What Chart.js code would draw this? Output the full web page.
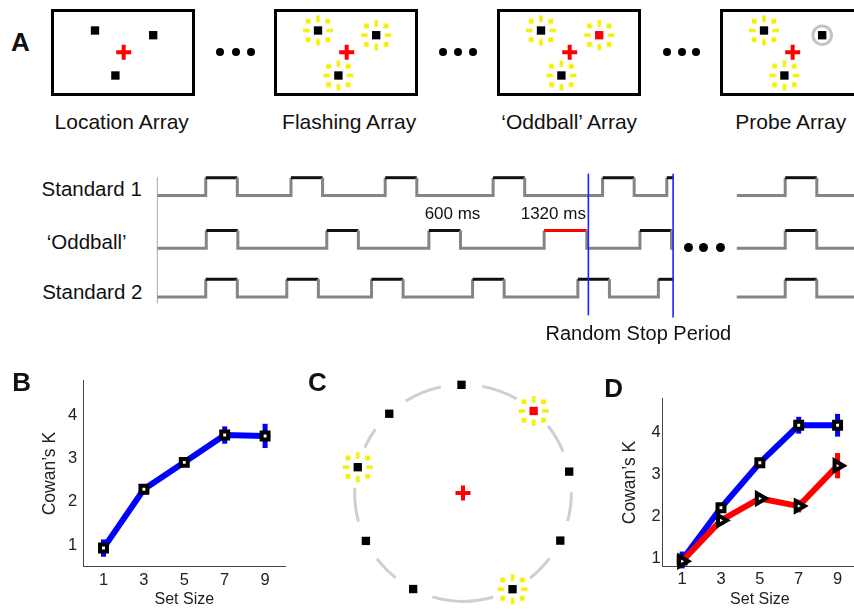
<!DOCTYPE html>
<html>
<head>
<meta charset="utf-8">
<script src="https://cdn.jsdelivr.net/npm/chart.js"></script>
<style>
  html, body { margin: 0; padding: 0; width: 854px; height: 609px; overflow: hidden; background: #fff; }
  body { position: relative; font-family: "Liberation Sans", Arial, sans-serif; color: #111; }
  canvas { position: absolute; }
  .txt { position: absolute; white-space: nowrap; line-height: 1; transform: translate(-50%, -50%); }
  .dot { position: absolute; border-radius: 50%; background: #000; }
</style>
</head>
<body>
<script>
// ---- panel A, stimulus arrays (display units, fixation at 0,0)
const arrayNames = ["Location Array", "Flashing Array", "\u2018Oddball\u2019 Array", "Probe Array"];
const itemX = [-2.8, 3.02, -0.76];
const itemY = [2.2, 1.73, -2.3];
const flashOn = [[0, 0, 0], [1, 1, 1], [1, 1, 1], [1, 0, 1]];
const oddItem = [-1, -1, 1, -1];
const probeItem = [-1, -1, -1, 1];
const fixation = { x: 0.07, y: 0.03 };

// ---- panel A, timing (ms)
const pulseMs = 600;
const std1Onsets = [920, 2540, 4330, 6380, 8460, 9680];
const oddOnsets = [930, 3220, 5160, 7350, 9170];
const oddDurations = [600, 600, 600, 810, 600];
const std2Onsets = [920, 2460, 4070, 5990, 7990, 9520];
const stopTimes = [8190, 9800];
const resumeMs = 11010;
const probeOnset = 11930;

// ---- panel B
const setSizes = [1, 3, 5, 7, 9];
const kTicks = [1, 2, 3, 4];
const kAll = [0.93, 2.29, 2.91, 3.54, 3.52];
const kAllErr = [0.2, 0.12, 0.07, 0.2, 0.28];

// ---- panel C (angle in degrees on the placeholder circle)
const circleAngles = [90.8, 132.9, 49.3, 166.2, 11.4, 206.3, 333.9, 242.6, 297.2];
const circleFlash = [0, 0, 1, 1, 0, 0, 0, 0, 1];
const circleOdd = [0, 0, 1, 0, 0, 0, 0, 0, 0];

// ---- panel D
const kStandard = [0.96, 2.2, 3.27, 4.16, 4.16];
const kStandardErr = [0.2, 0.1, 0.07, 0.2, 0.27];
const kOddball = [0.93, 1.9, 2.42, 2.24, 3.2];
const kOddballErr = [0.12, 0.1, 0.1, 0.15, 0.3];

Chart.defaults.font.family = '"Liberation Sans", Arial, sans-serif';
Chart.defaults.color = "#222";

const addCanvas = (left, top, w, h) => {
  const c = document.createElement("canvas");
  c.width = w; c.height = h;
  c.style.left = left + "px"; c.style.top = top + "px";
  document.body.appendChild(c);
  return c;
};
const addText = (text, cx, cy, size, bold) => {
  const d = document.createElement("div");
  d.className = "txt";
  d.textContent = text;
  d.style.left = cx + "px"; d.style.top = cy + "px";
  d.style.fontSize = size + "px";
  if (bold) d.style.fontWeight = "bold";
  document.body.appendChild(d);
};
const addDots = (xs, cy, size) => {
  xs.forEach((cx) => {
    const d = document.createElement("div");
    d.className = "dot";
    d.style.width = d.style.height = size + "px";
    d.style.left = cx - size / 2 + "px"; d.style.top = cy - size / 2 + "px";
    document.body.appendChild(d);
  });
};

// yellow "flash" halo used as a point style
const makeFlash = () => {
  const c = document.createElement("canvas");
  c.width = c.height = 32;
  const g = c.getContext("2d");
  g.fillStyle = "#f5ee00";
  const m = 16;
  [[-1, -1], [1, -1], [-1, 1], [1, 1]].forEach(([sx, sy]) =>
    g.fillRect(m + sx * 9.8 - 2.4, m + sy * 9.2 - 2.4, 4.8, 4.8));
  g.fillRect(m - 1.7, m - 15, 3.4, 6.5);
  g.fillRect(m - 1.7, m + 8.5, 3.4, 6.5);
  g.fillRect(m - 15, m - 1.7, 6.5, 3.4);
  g.fillRect(m + 8.5, m - 1.7, 6.5, 3.4);
  return c;
};
const flashImg = makeFlash();

const baseOpts = (xMin, xMax, yMin, yMax) => ({
  animation: false,
  responsive: false,
  events: [],
  layout: { padding: 0, autoPadding: false },
  plugins: { legend: { display: false }, tooltip: { enabled: false } },
  scales: {
    x: { type: "linear", display: false, min: xMin, max: xMax },
    y: { type: "linear", display: false, min: yMin, max: yMax },
  },
});

const boxFrame = {
  id: "boxFrame",
  beforeDraw(chart) {
    const { ctx, chartArea: a } = chart;
    ctx.save();
    ctx.lineWidth = 3;
    ctx.strokeStyle = "#000";
    ctx.strokeRect(a.left + 1.5, a.top + 1.5, a.right - a.left - 3, a.bottom - a.top - 3);
    ctx.restore();
  },
};

// ---------- A: the four arrays
const boxLefts = [51, 274, 497, 720];
const labelCx = [121.7, 349.2, 569.2, 790.8];
arrayNames.forEach((name, b) => {
  const cv = addCanvas(boxLefts[b], 9, 144, 87);
  const pts = itemX.map((x, i) => ({ x, y: itemY[i] }));
  new Chart(cv, {
    type: "scatter",
    data: {
      datasets: [
        { data: [fixation], pointStyle: "cross", pointRadius: 7.5, pointBorderWidth: 4, pointBorderColor: "#ff0000" },
        {
          data: pts, pointStyle: "rect", pointRadius: 5.9, pointBorderWidth: 0,
          pointBackgroundColor: pts.map((_, i) => (oddItem[b] === i ? "#ff0000" : "#000")),
        },
        {
          data: pts.filter((_, i) => probeItem[b] === i), pointStyle: "circle", pointRadius: 9.3,
          pointBorderWidth: 3, pointBorderColor: "#c4c4c4", pointBackgroundColor: "rgba(0,0,0,0)",
        },
        { data: pts.filter((_, i) => flashOn[b][i]), pointStyle: flashImg, pointRadius: 16 },
      ],
    },
    options: baseOpts(-7.2, 7.2, -4.35, 4.35),
    plugins: [boxFrame],
  });
  addText(name, labelCx[b], 121, 21);
});
addDots([220, 235.7, 250.7], 52.3, 8);
addDots([442.7, 457.7, 472.7], 52.3, 8);
addDots([666.7, 681.7, 696], 52.3, 8);

// ---------- A: timing diagram
const pulseHeight = 0.35;
const tMin = -139, tMax = 13237;
const wave = (base, onsets, durs, endMs) => {
  const hi = base + pulseHeight;
  const pts = [{ x: 0, y: base }];
  onsets.forEach((on, i) => {
    const off = on + durs[i];
    pts.push({ x: on, y: base }, { x: on, y: hi });
    if (off < endMs) pts.push({ x: off, y: hi }, { x: off, y: base });
    else pts.push({ x: endMs, y: hi });
  });
  if (pts[pts.length - 1].y === base) pts.push({ x: endMs, y: base });
  pts.push({ x: (endMs + resumeMs) / 2, y: null });
  pts.push(
    { x: resumeMs, y: base }, { x: probeOnset, y: base }, { x: probeOnset, y: hi },
    { x: probeOnset + pulseMs, y: hi }, { x: probeOnset + pulseMs, y: base }, { x: tMax, y: base }
  );
  return pts;
};
const waveSet = (base, onsets, durs) => ({
  data: wave(base, onsets, durs, stopTimes[1]),
  borderWidth: 3,
  borderColor: "#858585",
  pointRadius: 0,
  segment: {
    borderColor: (c) => {
      const y0 = c.p0.parsed.y, y1 = c.p1.parsed.y;
      if (y0 === y1 && y0 > base + 0.01) return c.p1.parsed.x - c.p0.parsed.x > 700 ? "#ff0000" : "#111";
      return "#858585";
    },
  },
});
const vline = (x, y0, y1, color, w) => ({
  data: [{ x, y: y0 }, { x, y: y1 }], borderColor: color, borderWidth: w, pointRadius: 0,
});
const fixedDur = (arr) => arr.map(() => pulseMs);
new Chart(addCanvas(150, 164.5, 704, 160), {
  type: "line",
  data: {
    datasets: [
      vline(stopTimes[0], -0.36, 2.43, "#1f1fff", 1.6),
      vline(stopTimes[1], -0.4, 2.43, "#1f1fff", 1.6),
      waveSet(2, std1Onsets, fixedDur(std1Onsets)),
      waveSet(0.96, oddOnsets, oddDurations),
      waveSet(0, std2Onsets, fixedDur(std2Onsets)),
      vline(0, -0.13, 2.36, "#aaaaaa", 1),
    ],
  },
  options: baseOpts(tMin, tMax, -0.55, 2.6),
});
addText("Standard 1", 91.7, 189.3, 20.5);
addText("\u2018Oddball\u2019", 86.7, 241.7, 20.5);
addText("Standard 2", 92.3, 291.7, 20.5);
addText("600 ms", 452.5, 213.3, 17);
addText("1320 ms", 553.3, 213.3, 17);
addText("Random Stop Period", 638.3, 333.3, 20);
addDots([688.3, 703.3, 720], 247.3, 9);

// ---------- C: circular array
const ring = {
  id: "ring",
  beforeDatasetsDraw(chart) {
    const { ctx, scales: { x, y } } = chart;
    const cx = x.getPixelForValue(0), cy = y.getPixelForValue(0);
    const r = x.getPixelForValue(1) - cx;
    const ang = [...circleAngles].sort((a, b) => a - b);
    const gap = 11;
    ctx.save();
    ctx.strokeStyle = "#cfcfcf";
    ctx.lineWidth = 3;
    ang.forEach((a, i) => {
      const next = i + 1 < ang.length ? ang[i + 1] : ang[0] + 360;
      const a0 = ((a + gap) * Math.PI) / 180, a1 = ((next - gap) * Math.PI) / 180;
      ctx.beginPath();
      ctx.arc(cx, cy, r, -a0, -a1, true);
      ctx.stroke();
    });
    ctx.restore();
  },
};
const cPts = circleAngles.map((a) => ({ x: Math.cos((a * Math.PI) / 180), y: Math.sin((a * Math.PI) / 180) }));
new Chart(addCanvas(333, 374, 260, 238), {
  type: "scatter",
  data: {
    datasets: [
      { data: [{ x: 0, y: 0 }], pointStyle: "cross", pointRadius: 7.5, pointBorderWidth: 4, pointBorderColor: "#ff0000" },
      {
        data: cPts, pointStyle: "rect", pointRadius: 5.9, pointBorderWidth: 0,
        pointBackgroundColor: circleOdd.map((o) => (o ? "#ff0000" : "#000")),
      },
      { data: cPts.filter((_, i) => circleFlash[i]), pointStyle: flashImg, pointRadius: 16 },
    ],
  },
  options: baseOpts(-1.2, 1.2, -1.1, 1.1),
  plugins: [ring],
});

// ---------- B and D: Cowan's K
const errorBars = {
  id: "errorBars",
  beforeDatasetsDraw(chart) {
    const { ctx, scales: { y } } = chart;
    chart.data.datasets.forEach((ds, i) => {
      if (!ds.errors) return;
      ctx.save();
      ctx.strokeStyle = ds.borderColor;
      ctx.lineWidth = 5;
      chart.getDatasetMeta(i).data.forEach((p, j) => {
        const v = ds.data[j].y, e = ds.errors[j];
        ctx.beginPath();
        ctx.moveTo(p.x, y.getPixelForValue(v - e));
        ctx.lineTo(p.x, y.getPixelForValue(v + e));
        ctx.stroke();
      });
      ctx.restore();
    });
  },
};

const cowanChart = (canvas, yMin, series, pad) =>
  new Chart(canvas, {
    type: "line",
    data: {
      datasets: series.map((s) => ({
        data: setSizes.map((x, i) => ({ x, y: s.values[i] })),
        errors: s.errors,
        borderColor: s.color,
        borderWidth: 6,
        pointStyle: s.marker,
        pointRotation: s.rotation || 0,
        pointRadius: s.radius,
        pointBorderWidth: 4,
        pointBorderColor: "#000",
        pointBackgroundColor: "#fff",
        clip: false,
      })),
    },
    options: {
      animation: false,
      responsive: false,
      events: [],
      layout: { padding: { top: pad.top, right: pad.right, left: 0, bottom: 0 }, autoPadding: false },
      plugins: { legend: { display: false }, tooltip: { enabled: false } },
      scales: {
        x: {
          type: "linear", min: 0, max: 10,
          afterBuildTicks: (sc) => { sc.ticks = setSizes.map((value) => ({ value })); },
          afterFit: (sc) => { sc.height = 42.3; },
          grid: { display: false, drawTicks: false },
          border: { display: true, color: "#444", width: 1 },
          ticks: { font: { size: 16.5 }, padding: pad.xTick },
          title: { display: true, text: "Set Size", font: { size: 16 }, padding: 0 },
        },
        y: {
          type: "linear", min: yMin, max: 4.8,
          afterBuildTicks: (sc) => { sc.ticks = kTicks.map((value) => ({ value })); },
          afterFit: (sc) => { sc.width = pad.yAxis; },
          grid: { display: false, drawTicks: false },
          border: { display: true, color: "#444", width: 1 },
          ticks: { font: { size: 16.5 }, padding: pad.yTick },
          title: { display: true, text: "Cowan\u2019s K", font: { size: 17.5 }, padding: { top: 40, bottom: 0 } },
        },
      },
    },
    plugins: [errorBars],
  });

cowanChart(addCanvas(0, 360, 300, 249), 0.5, [
  { values: kAll, errors: kAllErr, color: "#0000ff", marker: "rect", radius: 4.9 },
], { top: 20.5, right: 14.7, yAxis: 83.3, xTick: 4, yTick: 6 });

cowanChart(addCanvas(580, 360, 277, 249), 0.8, [
  { values: kOddball, errors: kOddballErr, color: "#ff0000", marker: "triangle", rotation: 90, radius: 6 },
  { values: kStandard, errors: kStandardErr, color: "#0000ff", marker: "rect", radius: 4.9 },
], { top: 38.3, right: 0, yAxis: 82.7, xTick: 3, yTick: 2 });

addText("A", 20.3, 42.2, 26, true);
addText("B", 21.7, 382, 26, true);
addText("C", 317.5, 381.7, 26, true);
addText("D", 613.7, 387.5, 26, true);
</script>
</body>
</html>
